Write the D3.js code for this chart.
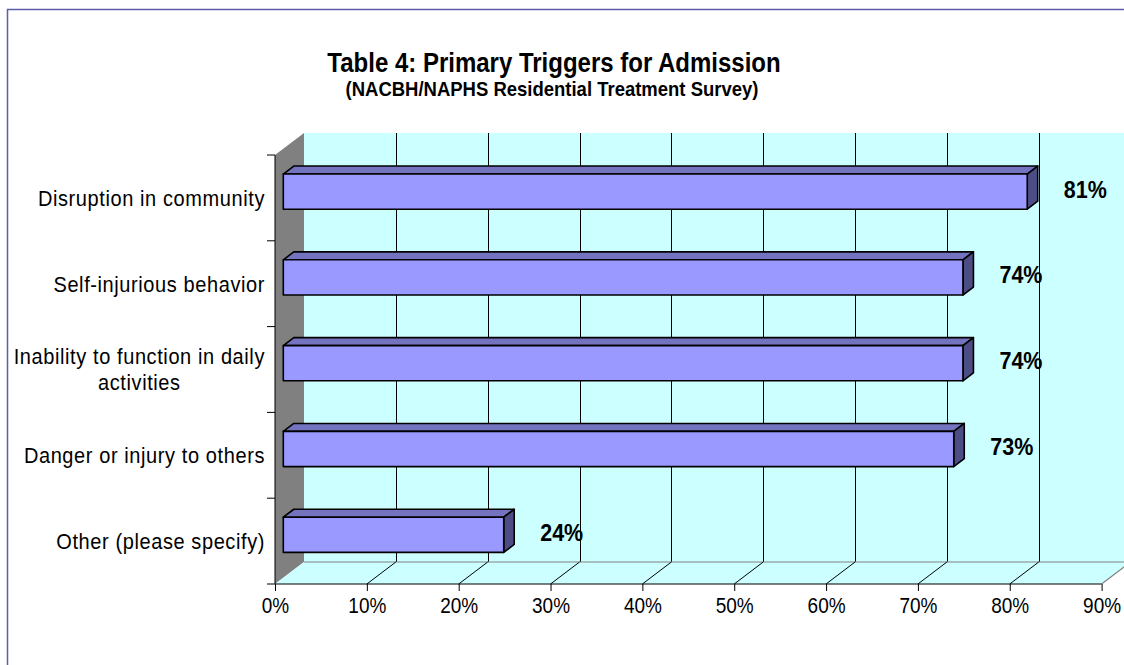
<!DOCTYPE html>
<html>
<head>
<meta charset="utf-8">
<script src="https://cdn.jsdelivr.net/npm/d3@7"></script>
<style>
  html, body { margin: 0; padding: 0; background: #fff; }
  svg { display: block; font-family: Arial, "Liberation Sans", sans-serif; }
</style>
</head>
<body>
<svg id="chart" width="1124" height="665"></svg>
<script>
// Survey results: share of respondents naming each admission trigger
const categories = [
  "Disruption in community",
  "Self-injurious behavior",
  "Inability to function in daily activities",
  "Danger or injury to others",
  "Other (please specify)"
];
const categoryLines = [
  ["Disruption in community"],
  ["Self-injurious behavior"],
  ["Inability to function in daily", "activities"],
  ["Danger or injury to others"],
  ["Other (please specify)"]
];
const values = [81, 74, 74, 73, 24];
const tickValues = [0, 10, 20, 30, 40, 50, 60, 70, 80, 90];
const tickLabels = ["0%", "10%", "20%", "30%", "40%", "50%", "60%", "70%", "80%", "90%"];

const svg = d3.select("#chart");

// Front plane of the 3-D box
const plotLeft = 275, plotRight = 1101.6, plotTop = 155, plotBottom = 584;
// Depth of the box in screen units
const depthX = 29, depthY = -22;
// Bars occupy the middle slice of the depth
const barD0 = 0.286, barD1 = 0.648;
// Text is drawn slightly taller than the font's natural proportions
const textStretch = 1.12;

const x = d3.scaleLinear().domain([0, 90]).range([plotLeft, plotRight]);
const y = d3.scaleBand().domain(categories).range([plotTop, plotBottom]);

const P = (px, py, d) => [px + depthX * d, py + depthY * d];
const poly = pts => "M" + pts.map(p => p.join(",")).join("L") + "Z";

// Places a text element at (tx, ty) with the vertical stretch applied about its baseline
function stretchedText(parent, tx, ty) {
  return parent.append("g")
    .attr("transform", `translate(${tx},${ty}) scale(1,${textStretch})`)
    .append("text");
}

// Outer chart frame
svg.append("rect")
  .attr("x", 7.5).attr("y", 9.5)
  .attr("width", 1200).attr("height", 700)
  .attr("fill", "#fff")
  .attr("stroke", "#5c5cab").attr("stroke-width", 1.5);

// Titles
stretchedText(svg, 554, 71.5)
  .attr("text-anchor", "middle")
  .attr("font-size", 24).attr("font-weight", "bold")
  .text("Table 4: Primary Triggers for Admission");
stretchedText(svg, 552, 96)
  .attr("text-anchor", "middle")
  .attr("font-size", 18.5).attr("font-weight", "bold")
  .text("(NACBH/NAPHS Residential Treatment Survey)");

const plot = svg.append("g");

// Back wall
plot.append("path")
  .attr("d", poly([P(plotLeft, plotTop, 1), P(plotRight, plotTop, 1), P(plotRight, plotBottom, 1), P(plotLeft, plotBottom, 1)]))
  .attr("fill", "#ccffff");

// Back wall gridlines
plot.selectAll("line.vgrid")
  .data(tickValues.slice(1, -1))
  .join("line")
  .attr("class", "vgrid")
  .attr("x1", d => Math.round(P(x(d), plotTop, 1)[0]) + 0.5)
  .attr("x2", d => Math.round(P(x(d), plotTop, 1)[0]) + 0.5)
  .attr("y1", P(plotLeft, plotTop, 1)[1])
  .attr("y2", P(plotLeft, plotBottom, 1)[1])
  .attr("stroke", "#000").attr("stroke-width", 1);

// Left side wall
plot.append("path")
  .attr("d", poly([P(plotLeft, plotTop, 0), P(plotLeft, plotTop, 1), P(plotLeft, plotBottom, 1), P(plotLeft, plotBottom, 0)]))
  .attr("fill", "#808080");

// Floor
plot.append("path")
  .attr("d", poly([P(plotLeft, plotBottom, 0), P(plotLeft, plotBottom, 1), P(plotRight, plotBottom, 1), P(plotRight, plotBottom, 0)]))
  .attr("fill", "#ccffff");
plot.append("path")
  .attr("d", "M" + P(plotLeft, plotBottom, 1).join(",") + "L" + P(plotRight, plotBottom, 1).join(",") +
             "M" + P(plotRight, plotBottom, 0).join(",") + "L" + P(plotRight, plotBottom, 1).join(","))
  .attr("fill", "none").attr("stroke", "#808080").attr("stroke-width", 1.2);

// Floor gridlines
plot.selectAll("line.fgrid")
  .data(tickValues.slice(1, -1))
  .join("line")
  .attr("class", "fgrid")
  .attr("x1", d => P(x(d), plotBottom, 0)[0])
  .attr("y1", d => P(x(d), plotBottom, 0)[1])
  .attr("x2", d => P(x(d), plotBottom, 1)[0])
  .attr("y2", d => P(x(d), plotBottom, 1)[1])
  .attr("stroke", "#000").attr("stroke-width", 1);

// Value axis
const xAxis = d3.axisBottom(x)
  .tickValues(tickValues)
  .tickFormat((d, i) => tickLabels[i])
  .tickSize(7);
const gx = plot.append("g")
  .attr("transform", `translate(0,${plotBottom})`)
  .call(xAxis);
gx.select(".domain").attr("stroke", "#000").attr("d", `M${plotLeft},0H${plotRight}`);
gx.selectAll(".tick line").attr("stroke", "#000");
gx.selectAll(".tick text")
  .attr("font-family", "Arial, 'Liberation Sans', sans-serif")
  .attr("font-size", 19).attr("fill", "#000")
  .attr("y", 0).attr("dy", null)
  .attr("transform", `translate(0,29) scale(1,${textStretch})`);

// Category axis
const yTicks = [plotTop].concat(categories.map(c => y(c) + y.bandwidth()));
plot.append("line")
  .attr("x1", plotLeft).attr("x2", plotLeft).attr("y1", plotTop).attr("y2", plotBottom)
  .attr("stroke", "#000");
plot.selectAll("line.ytick")
  .data(yTicks)
  .join("line")
  .attr("class", "ytick")
  .attr("x1", plotLeft - 8).attr("x2", plotLeft)
  .attr("y1", d => d).attr("y2", d => d)
  .attr("stroke", "#000");

categories.forEach((c, i) => {
  const lines = categoryLines[i];
  const lh = 26;
  const cy = y(c) + y.bandwidth() / 2;
  const t = stretchedText(plot, 265, cy)
    .attr("font-size", 20)
    .attr("letter-spacing", 0.6)
    .attr("fill", "#000");
  lines.forEach((ln, j) => {
    t.append("tspan")
      .attr("x", 0)
      .attr("y", ((j - (lines.length - 1) / 2) * lh) / textStretch)
      .attr("dy", "0.35em")
      .text(ln);
  });
  if (lines.length > 1) {
    // right-align the block, centre the lines within it
    const w = t.node().getBBox().width;
    t.attr("text-anchor", "middle");
    t.selectAll("tspan").attr("x", -w / 2);
  } else {
    t.attr("text-anchor", "end");
  }
});

// Bars
const barH = y.bandwidth() * 0.41;
categories.forEach((c, i) => {
  const v = values[i];
  const g = plot.append("g").attr("class", "bar");
  const cy = y(c) + y.bandwidth() / 2;
  const y0 = cy - barH / 2, y1 = cy + barH / 2;
  const x0 = x(0), x1 = x(v);
  const f = (px, py) => P(px, py, barD0);
  const b = (px, py) => P(px, py, barD1);
  // top face
  g.append("path")
    .attr("d", poly([f(x0, y0), b(x0, y0), b(x1, y0), f(x1, y0)]))
    .attr("fill", "#7373c0").attr("stroke", "#000").attr("stroke-width", 1.6).attr("stroke-linejoin", "round");
  // end face
  g.append("path")
    .attr("d", poly([f(x1, y0), b(x1, y0), b(x1, y1), f(x1, y1)]))
    .attr("fill", "#4d4d85").attr("stroke", "#000").attr("stroke-width", 1.6).attr("stroke-linejoin", "round");
  // front face
  g.append("path")
    .attr("d", poly([f(x0, y0), f(x1, y0), f(x1, y1), f(x0, y1)]))
    .attr("fill", "#9999ff").attr("stroke", "#000").attr("stroke-width", 1.6).attr("stroke-linejoin", "round");
  // value label
  stretchedText(g, f(x1, cy)[0] + 58, f(x1, cy)[1] + 6)
    .attr("text-anchor", "middle")
    .attr("font-size", 21.5).attr("font-weight", "bold")
    .attr("fill", "#000")
    .text(v + "%");
});
</script>
</body>
</html>
